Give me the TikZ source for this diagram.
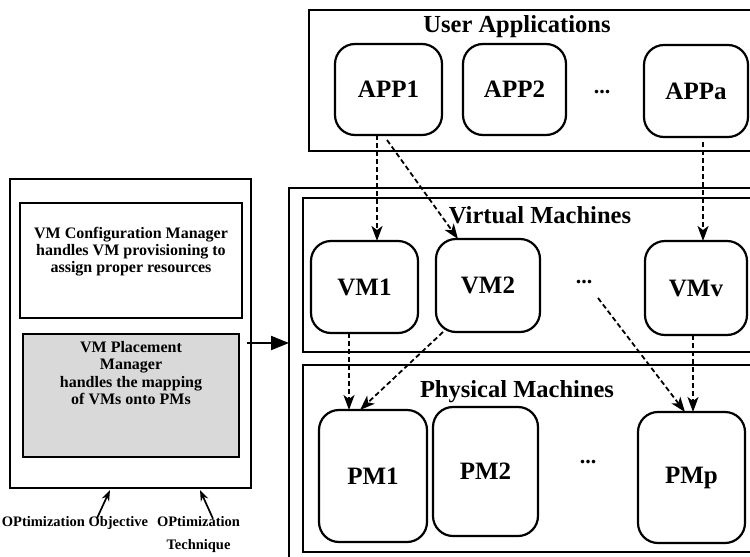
\documentclass[tikz,border=0pt]{standalone}
\usepackage{fontspec}
\setmainfont{Liberation Serif}
\usetikzlibrary{arrows.meta}
\definecolor{placegray}{RGB}{217,217,217}
\begin{document}
\begin{tikzpicture}[x=1pt,y=-1pt,
  panel/.style={draw, line width=1.6pt, anchor=north west, inner sep=0pt, outer sep=0pt},
  unit/.style={draw, line width=2.2pt, rounded corners=20pt, anchor=north west, inner sep=0pt, outer sep=0pt, font=\fontsize{25}{27}\selectfont\bfseries},
  ttl/.style={font=\fontsize{24.5}{26}\selectfont\bfseries, inner sep=0pt},
  ell/.style={font=\fontsize{22}{24}\selectfont\bfseries, inner sep=0pt, anchor=base},
  note/.style={align=center, font=\fontsize{16}{17.3}\selectfont\bfseries},
  foot/.style={align=center, inner sep=0pt, font=\fontsize{14.5}{23}\selectfont\bfseries},
  flow/.style={-{Stealth[length=15pt,width=11pt,inset=4pt]}, dash pattern=on 5pt off 3pt, line width=1.8pt},
  push/.style={-{Stealth[length=11pt,width=8pt]}, line width=1.7pt},
  bigarrow/.style={-{Triangle[length=18pt,width=14pt]}, line width=2pt}]
\useasboundingbox (0,0) rectangle (750,557);
\clip (0,0) rectangle (750,557);

% left panel
\node[panel, minimum width=241pt, minimum height=309pt] (outerL) at (10,179) {};
\node[panel, note, minimum width=222pt, minimum height=115pt] (config) at (20,203)
  {VM Configuration Manager\\handles VM provisioning to\\assign proper resources\\[4pt]\mbox{}};
\node[panel, note, fill=placegray, minimum width=216pt, minimum height=123pt] (place) at (23,334)
  {VM Placement\\Manager\\handles the mapping\\of VMs onto PMs\\[28pt]\mbox{}};

\node[foot] (obj) at (75,523) {OPtimization Objective};
\node[foot] (tech) at (198.5,535) {OPtimization\\Technique};

% right panels
\node[panel, minimum width=520pt, minimum height=420pt] (outerR) at (289,188) {};
\node[panel, minimum width=500pt, minimum height=141pt] (UA) at (309,10) {};
\node[panel, minimum width=500pt, minimum height=154pt] (VMs) at (303,198) {};
\node[panel, minimum width=500pt, minimum height=187pt] (PMs) at (303,365) {};

\node[ttl] (tUA) at (517,27) {User Applications};
\node[ttl] (tVM) at (540,215) {Virtual Machines};
\node[ttl] (tPM) at (517,392) {Physical Machines};

% applications
\node[unit, minimum width=107pt, minimum height=91pt] (APP1) at (335,44) {APP1};
\node[unit, minimum width=103pt, minimum height=91pt] (APP2) at (463,44) {APP2};
\node[ell] (d1) at (602,93) {...};
\node[unit, minimum width=104pt, minimum height=92pt] (APPa) at (644,45) {APPa};

% virtual machines
\node[unit, minimum width=107pt, minimum height=92pt] (VM1) at (311,241) {VM1};
\node[unit, minimum width=104pt, minimum height=93pt] (VM2) at (436,239) {VM2};
\node[ell] (d2) at (584,283) {...};
\node[unit, minimum width=102pt, minimum height=94pt] (VMv) at (645,241) {VMv};

% physical machines
\node[unit, minimum width=108pt, minimum height=132pt] (PM1) at (319,410) {PM1};
\node[unit, minimum width=105pt, minimum height=129pt] (PM2) at (433,407) {PM2};
\node[ell] (d3) at (588,463) {...};
\node[unit, minimum width=107pt, minimum height=131pt] (PMp) at (638,412) {PMp};

% mappings
\draw[flow] ([xshift=-11.5pt]APP1.south) -- ([xshift=12.5pt]VM1.north);
\draw[flow] ([xshift=-1.5pt,yshift=-5pt]APP1.south) -- ([xshift=-30pt]VM2.north);
\draw[flow] ([xshift=7pt,yshift=-5pt]APPa.south) -- ([xshift=7pt]VMv.north);
\draw[flow] ([xshift=-15.5pt]VM1.south) -- ([xshift=-24pt]PM1.north);
\draw[flow] ([xshift=-45pt]VM2.south) -- ([xshift=-13pt]PM1.north);
\coordinate (dstart) at ([xshift=14pt,yshift=-15pt]d2.base);
\draw[flow] (dstart) -- ([xshift=-6.5pt]PMp.north);
\draw[flow] ([xshift=-3pt]VMv.south) -- ([xshift=1.5pt]PMp.north);

% manager to platform
\coordinate (pa) at ([shift={(8pt,-9pt)}]place.north east);
\draw[bigarrow] (pa) -- (pa -| outerR.west);

% optimization inputs
\draw[push] ([xshift=22pt,yshift=-2pt]obj.north) -- ([xshift=-20.5pt,yshift=-2pt]outerL.south);
\draw[push] ([xshift=14.5pt,yshift=-2pt]tech.north) -- ([xshift=69.5pt,yshift=-2pt]outerL.south);
\end{tikzpicture}
\end{document}
